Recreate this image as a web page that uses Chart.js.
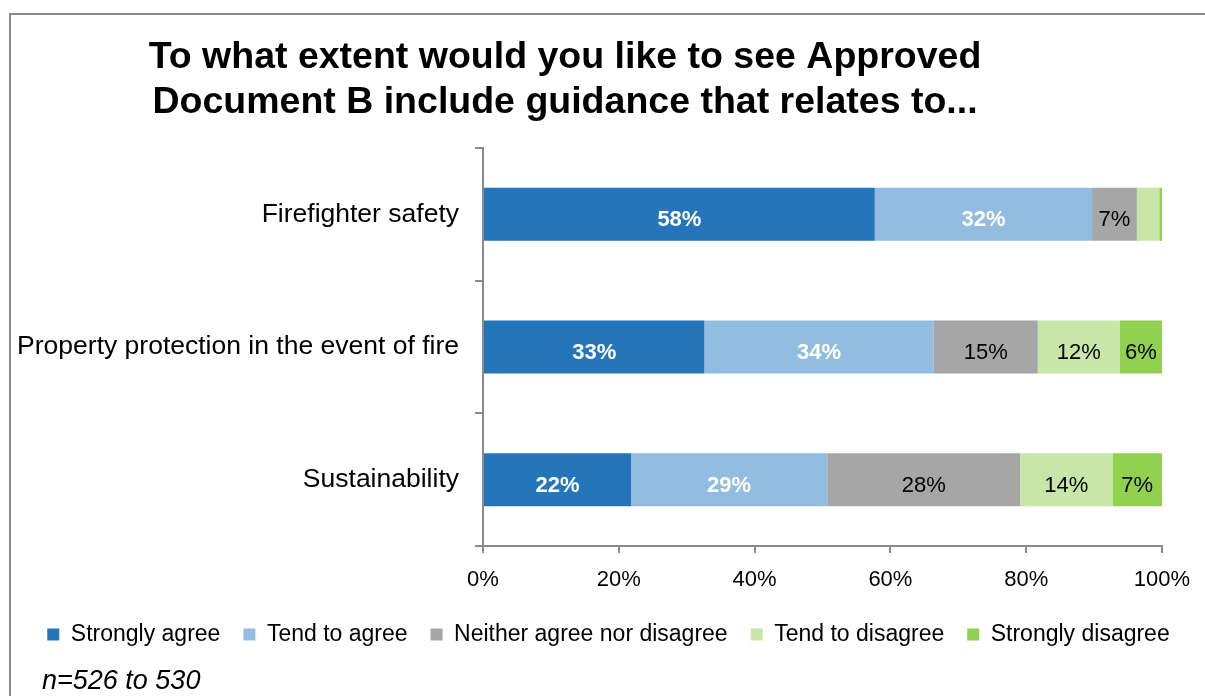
<!DOCTYPE html>
<html>
<head>
<meta charset="utf-8">
<title>Approved Document B guidance</title>
<script src="https://cdn.jsdelivr.net/npm/chart.js@4/dist/chart.umd.min.js"></script>
<style>
  html, body { margin: 0; padding: 0; background: #fff; overflow: hidden; }
  #wrap { position: relative; width: 1205px; height: 696px; overflow: hidden; }
  #frame { position: absolute; left: 9px; top: 13px; width: 1300px; height: 800px; border: 2px solid #8a8a8a; }
  #surveyChart { position: absolute; left: 0; top: 0; }
</style>
</head>
<body>
<div id="wrap">
  <div id="frame"></div>
  <canvas id="surveyChart" width="1205" height="696"></canvas>
</div>
<script>
const titleLines = ["To what extent would you like to see Approved", "Document B include guidance that relates to..."];
const sampleNote = "n=526 to 530";

const categories = ["Firefighter safety", "Property protection in the event of fire", "Sustainability"];
const seriesNames = ["Strongly agree", "Tend to agree", "Neither agree nor disagree", "Tend to disagree", "Strongly disagree"];

// % of respondents per answer
const stronglyAgree = [57.7, 32.6, 21.8];
const tendToAgree = [32.0, 33.8, 28.9];
const neitherNor = [6.6, 15.3, 28.4];
const tendToDisagree = [3.3, 12.1, 13.6];
const stronglyDisagree = [0.4, 6.2, 7.3];

const xTicks = [0, 20, 40, 60, 80, 100];

const seriesColours = ["#2475b9", "#93bde0", "#a6a6a6", "#c7e6a8", "#92d050"];
const axisGrey = "#8a8a8a";
const fontFamily = '"Liberation Sans", Arial, sans-serif';

Chart.defaults.font.family = fontFamily;
Chart.defaults.color = "#000";

// percentages inside the segments (skip the thin ones)
const barValueLabels = {
  id: "barValueLabels",
  afterDatasetsDraw(chart) {
    const ctx = chart.ctx;
    chart.data.datasets.forEach((ds, i) => {
      chart.getDatasetMeta(i).data.forEach((bar, j) => {
        const v = ds.data[j];
        if (v < 5) return;
        const p = bar.getProps(["x", "y", "base"], true);
        ctx.save();
        ctx.font = (i < 2 ? "bold " : "") + "22px " + fontFamily;
        ctx.fillStyle = i < 2 ? "#fff" : "#000";
        ctx.textAlign = "center";
        ctx.textBaseline = "middle";
        ctx.fillText(Math.round(v) + "%", (p.x + p.base) / 2, p.y + 6);
        ctx.restore();
      });
    });
  }
};

// heading on top, sample size under the legend
const headerAndNote = {
  id: "headerAndNote",
  afterDraw(chart) {
    const ctx = chart.ctx;
    ctx.save();
    ctx.fillStyle = "#000";
    ctx.textBaseline = "alphabetic";
    ctx.textAlign = "center";
    ctx.font = "bold 37.5px " + fontFamily;
    titleLines.forEach((line, i) => ctx.fillText(line, 565, 68 + i * 45));
    ctx.textAlign = "left";
    ctx.font = "italic 27px " + fontFamily;
    ctx.fillText(sampleNote, 42, 689);
    ctx.restore();
  }
};

const seriesData = [stronglyAgree, tendToAgree, neitherNor, tendToDisagree, stronglyDisagree];

const data = {
  labels: categories,
  datasets: seriesNames.map((name, i) => ({
    label: name,
    data: seriesData[i],
    backgroundColor: seriesColours[i],
    borderWidth: 0,
    barPercentage: 0.4,
    categoryPercentage: 1
  }))
};

const config = {
  type: "bar",
  data: data,
  options: {
    indexAxis: "y",
    responsive: false,
    animation: false,
    layout: { padding: { top: 148, left: 12, right: 0, bottom: 40 } },
    plugins: {
      title: { display: false },
      tooltip: { enabled: false },
      legend: {
        position: "bottom",
        align: "center",
        labels: {
          boxWidth: 12,
          boxHeight: 12,
          padding: 23,
          font: { size: 23 },
          color: "#000"
        }
      }
    },
    scales: {
      x: {
        stacked: true,
        min: 0,
        max: 100,
        afterBuildTicks: (s) => { s.ticks = xTicks.map((v) => ({ value: v })); },
        afterFit: (s) => { s.height = 54; },
        ticks: {
          callback: (v) => v + "%",
          autoSkip: false,
          maxRotation: 0,
          padding: 14,
          font: { size: 22 },
          color: "#000"
        },
        grid: { drawOnChartArea: false, tickLength: 7, color: axisGrey, lineWidth: 2 },
        border: { color: axisGrey, width: 2 }
      },
      y: {
        stacked: true,
        afterFit: (s) => { s.width = 471; },
        ticks: { padding: 16, font: { size: 26.5 }, color: "#000" },
        grid: { drawOnChartArea: false, tickLength: 8, color: axisGrey, lineWidth: 2 },
        border: { color: axisGrey, width: 2 }
      },
      // empty strip on the right so the plot stops short of the edge
      spacer: {
        type: "linear",
        position: "right",
        afterFit: (s) => { s.width = 43; },
        ticks: { display: false },
        grid: { display: false },
        border: { display: false }
      }
    }
  },
  plugins: [barValueLabels, headerAndNote]
};

const surveyChart = new Chart(document.getElementById("surveyChart"), config);
</script>
</body>
</html>
